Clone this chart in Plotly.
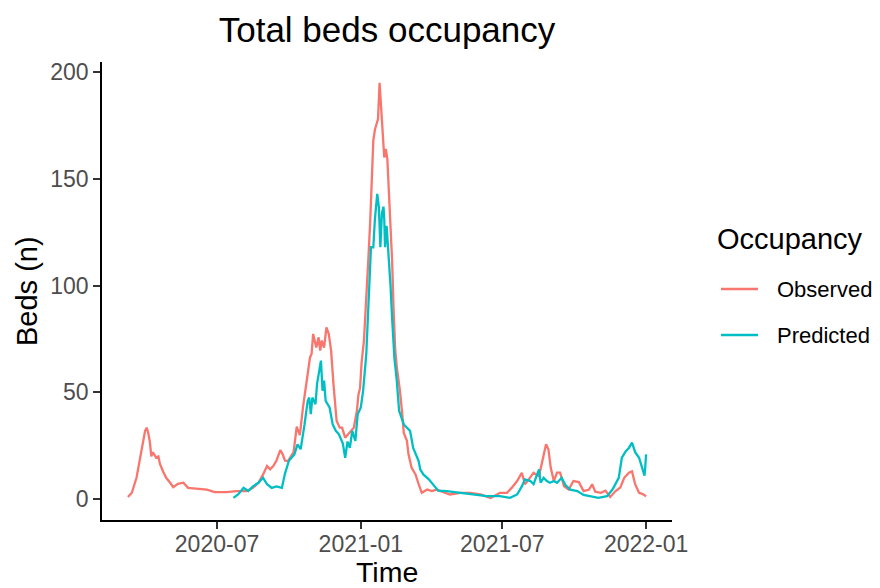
import plotly.graph_objects as go
import pandas as pd

obs_dates = ["2020-03-09","2020-03-14","2020-03-20","2020-03-24","2020-03-28","2020-03-31","2020-04-02","2020-04-04","2020-04-06","2020-04-08","2020-04-10","2020-04-14","2020-04-17","2020-04-19","2020-04-23","2020-04-27","2020-05-02","2020-05-06","2020-05-12","2020-05-19","2020-05-25","2020-06-05","2020-06-18","2020-06-28","2020-07-13","2020-07-26","2020-08-08","2020-08-16","2020-08-23","2020-08-29","2020-09-03","2020-09-07","2020-09-11","2020-09-15","2020-09-20","2020-09-23","2020-09-26","2020-09-30","2020-10-07","2020-10-11","2020-10-15","2020-10-19","2020-10-24","2020-10-28","2020-10-30","2020-11-01","2020-11-05","2020-11-08","2020-11-10","2020-11-12","2020-11-15","2020-11-18","2020-11-21","2020-11-24","2020-11-27","2020-11-29","2020-12-01","2020-12-05","2020-12-08","2020-12-12","2020-12-16","2020-12-20","2020-12-23","2020-12-27","2020-12-29","2020-12-31","2021-01-02","2021-01-05","2021-01-09","2021-01-11","2021-01-13","2021-01-15","2021-01-17","2021-01-19","2021-01-23","2021-01-25","2021-01-27","2021-01-29","2021-01-31","2021-02-02","2021-02-04","2021-02-05","2021-02-08","2021-02-10","2021-02-12","2021-02-14","2021-02-16","2021-02-20","2021-02-23","2021-02-25","2021-03-01","2021-03-03","2021-03-07","2021-03-12","2021-03-16","2021-03-20","2021-03-27","2021-04-02","2021-04-08","2021-04-13","2021-04-25","2021-05-08","2021-05-21","2021-06-03","2021-06-16","2021-06-28","2021-07-07","2021-07-13","2021-07-20","2021-07-26","2021-07-30","2021-08-04","2021-08-10","2021-08-17","2021-08-21","2021-08-24","2021-08-26","2021-08-29","2021-09-01","2021-09-05","2021-09-09","2021-09-13","2021-09-18","2021-09-24","2021-09-30","2021-10-07","2021-10-13","2021-10-20","2021-10-24","2021-10-28","2021-11-04","2021-11-10","2021-11-16","2021-11-23","2021-11-29","2021-12-04","2021-12-10","2021-12-14","2021-12-18","2021-12-23","2021-12-27","2022-01-01"]
obs_values = [1,3,10,18,26.5,32,33.5,31,27,20,22,19.5,20,16.5,13,10,7.7,5.6,7.2,7.7,5.3,4.8,4.5,3.3,3.3,3.8,3.8,5.3,7.7,11.6,15.5,14,15.5,18,23,21,18,17.9,22,34,30,43,55.5,66.4,68,77.4,71,75.8,69.6,74.3,71,80.5,77.4,69.6,54,46,36.7,33.5,33.5,28.8,30.4,32,33.5,41.4,49,52,64,74.3,98,115,130,151,168,173,178,195,182,167,160,164,159,151,128,112,88,70,62,51,40,31,27.3,21,14.7,11.6,7,3,4.5,3.8,4.5,3.8,2.2,3,3,2.2,0.6,3,3,5.3,8.5,12.4,7,9.3,12.4,10.8,17.9,23.4,25.7,23.4,14.7,8.5,12.4,12.4,6,4.5,8.5,8,3.8,4.5,7,3.5,3,4,1,3.8,5.5,10,12.4,13,7,3,2.5,1.4]

pred_dates = ["2020-07-22","2020-07-28","2020-08-04","2020-08-10","2020-08-16","2020-08-23","2020-08-29","2020-09-03","2020-09-09","2020-09-15","2020-09-22","2020-09-26","2020-10-01","2020-10-08","2020-10-12","2020-10-16","2020-10-21","2020-10-25","2020-10-27","2020-10-29","2020-10-31","2020-11-04","2020-11-06","2020-11-09","2020-11-11","2020-11-13","2020-11-15","2020-11-17","2020-11-22","2020-11-26","2020-11-30","2020-12-04","2020-12-09","2020-12-12","2020-12-15","2020-12-18","2020-12-21","2020-12-25","2020-12-28","2021-01-01","2021-01-04","2021-01-08","2021-01-11","2021-01-14","2021-01-17","2021-01-19","2021-01-22","2021-01-24","2021-01-25","2021-01-26","2021-01-28","2021-01-30","2021-01-31","2021-02-01","2021-02-03","2021-02-05","2021-02-08","2021-02-10","2021-02-13","2021-02-16","2021-02-19","2021-02-25","2021-03-01","2021-03-05","2021-03-09","2021-03-16","2021-03-18","2021-03-22","2021-03-29","2021-04-03","2021-04-10","2021-04-21","2021-05-08","2021-05-25","2021-06-11","2021-06-28","2021-07-11","2021-07-20","2021-07-26","2021-07-30","2021-08-06","2021-08-10","2021-08-14","2021-08-17","2021-08-19","2021-08-23","2021-08-27","2021-08-31","2021-09-05","2021-09-09","2021-09-15","2021-09-20","2021-09-26","2021-10-05","2021-10-13","2021-10-22","2021-11-01","2021-11-12","2021-11-19","2021-11-27","2021-12-01","2021-12-06","2021-12-10","2021-12-14","2021-12-18","2021-12-23","2021-12-27","2021-12-30","2021-12-31","2022-01-01"]
pred_values = [0.6,2.2,5.3,3.8,6,7.7,10,7,5.3,6,5.3,12,18,21,25.7,23.4,35,46,47.6,39.8,47.6,44.5,54,60.2,64.9,50.8,55.5,46,43,35,32,30.4,26,19.4,27,24,32,27.3,39.8,43,51,68,90,118,118,131,143,137,128,118,134,137,131,118,128,118,100,85,66,55.5,41.4,35,33.5,32,24,17.9,14,11.6,9.3,7,4,3.8,3,2.2,1.4,1.4,0.6,2.2,6,9.3,8.5,7,10.8,14,7.7,10,8.5,7.7,8.5,7.7,10,6.5,4.5,3.8,2,1.4,0.6,1.4,4.5,10,19.4,22.5,24,26.5,22,19.4,15,11,15.5,21]

x_tick_vals = ["2020-07-01", "2021-01-01", "2021-07-01", "2022-01-01"]
x_tick_text = ["2020-07", "2021-01", "2021-07", "2022-01"]
y_tick_vals = [0, 50, 100, 150, 200]
series_names = ["Observed", "Predicted"]
legend_title = "Occupancy"

FONT = "Liberation Sans, Arial, sans-serif"
COLORS = ["#F8766D", "#00BFC4"]

# The page body has an 8px margin, so the figure is 872x580 and sits at (8, 8)
OFF = 8
W, H = 880 - OFF, 588 - OFF
L, T = 102 - OFF, 62 - OFF          # plot area starts at page x=102, y=62
R = W - (672 - OFF)                 # plot area ends at page x=672
B = H - (520 - OFF)                 # plot area ends at page y=520
PW, PH = W - L - R, H - T - B

def px(x):   # page x -> paper x
    return (x - OFF - L) / PW

def py(y):   # page y -> paper y
    return (H - B - (y - OFF)) / PH

fig = go.Figure()
fig.add_trace(go.Scatter(x=obs_dates, y=obs_values, mode="lines", name=series_names[0],
                         line=dict(color=COLORS[0], width=2.3), showlegend=False))
fig.add_trace(go.Scatter(x=pred_dates, y=pred_values, mode="lines", name=series_names[1],
                         line=dict(color=COLORS[1], width=2.3), showlegend=False))

# ggplot-like 5% expansion of the data range
all_dates = pd.to_datetime(obs_dates + pred_dates)
dmin, dmax = all_dates.min(), all_dates.max()
pad = (dmax - dmin) * 0.05
all_vals = obs_values + pred_values
vmin, vmax = min(0, min(all_vals)), max(all_vals)
vpad = (vmax - vmin) * 0.05

annotations = [
    dict(text="Time", x=0.5, y=py(572), xref="paper", yref="paper", xanchor="center",
         yanchor="middle", showarrow=False, font=dict(size=28.5, color="black", family=FONT)),
    dict(text="Beds (n)", x=px(27), y=0.5, xref="paper", yref="paper", xanchor="center",
         yanchor="middle", textangle=-90, showarrow=False,
         font=dict(size=29, color="black", family=FONT)),
    dict(text=legend_title, x=px(715), y=py(239), xref="paper", yref="paper", xanchor="left",
         yanchor="middle", showarrow=False, font=dict(size=29, color="black", family=FONT)),
]
shapes = []
for i, (name, col) in enumerate(zip(series_names, COLORS)):
    yy = 289 + 46 * i
    shapes.append(dict(type="line", xref="paper", yref="paper", x0=px(721), x1=px(758),
                       y0=py(yy), y1=py(yy), line=dict(color=col, width=2.4)))
    annotations.append(dict(text=name, x=px(775), y=py(yy), xref="paper", yref="paper",
                            xanchor="left", yanchor="middle", showarrow=False,
                            font=dict(size=22, color="black", family=FONT)))

fig.update_layout(
    width=W, height=H,
    margin=dict(l=L, r=R, t=T, b=B, autoexpand=False),
    paper_bgcolor="white", plot_bgcolor="white",
    font=dict(family=FONT, color="black"),
    title=dict(text="Total beds occupancy", x=0.5, xref="paper", xanchor="center",
               y=1 - (29.5 - OFF) / H, yref="container", yanchor="middle",
               font=dict(size=35, color="black", family=FONT)),
    showlegend=False,
    annotations=annotations,
    shapes=shapes,
)
fig.update_xaxes(
    type="date", range=[dmin - pad, dmax + pad], automargin=False,
    tickvals=x_tick_vals, ticktext=x_tick_text,
    showgrid=False, zeroline=False,
    showline=True, linecolor="black", linewidth=1.7,
    ticks="outside", ticklen=7, tickwidth=1.6, tickcolor="#333333",
    ticklabelstandoff=-4,
    tickfont=dict(size=23, color="#4D4D4D", family=FONT),
)
fig.update_yaxes(
    range=[vmin - vpad, vmax + vpad], automargin=False,
    tickvals=y_tick_vals,
    showgrid=False, zeroline=False,
    showline=True, linecolor="black", linewidth=1.7,
    ticks="outside", ticklen=7, tickwidth=1.6, tickcolor="#333333",
    tickfont=dict(size=23, color="#4D4D4D", family=FONT),
)

fig.write_html("out.html")
